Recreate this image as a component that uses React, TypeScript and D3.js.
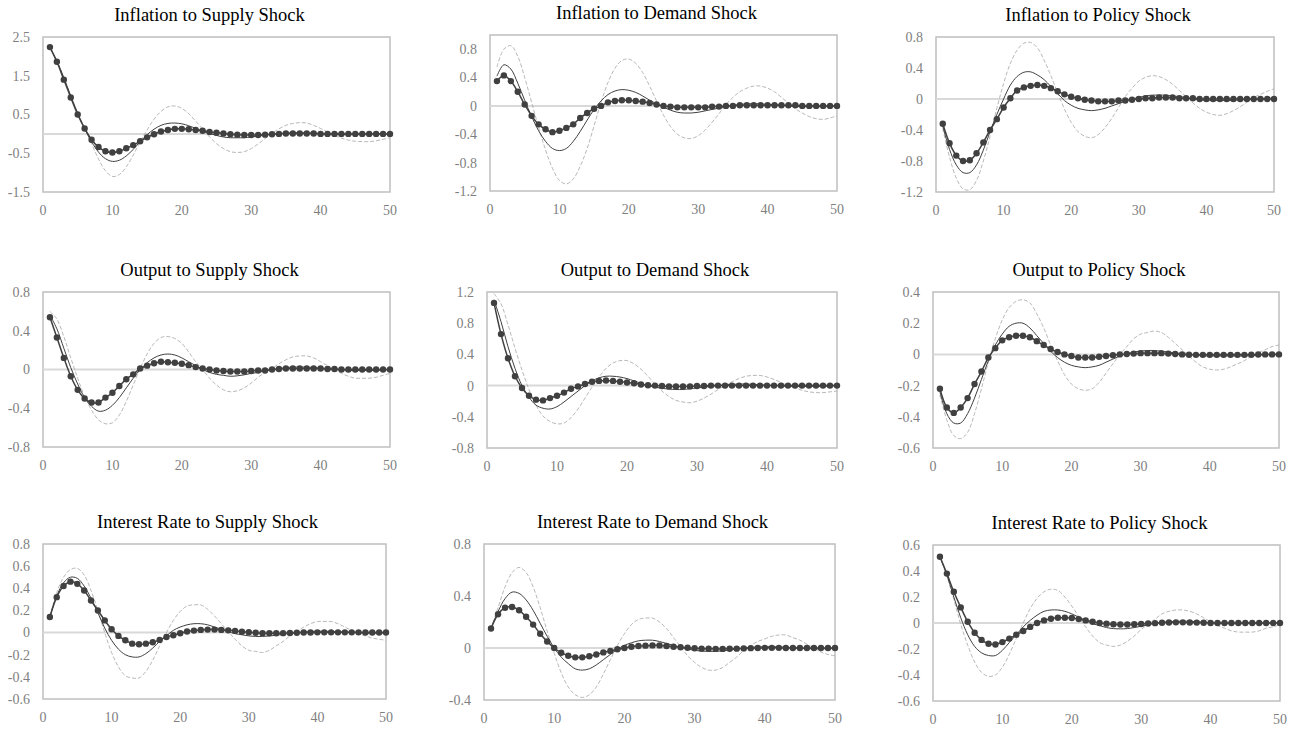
import React from 'react';
import * as d3 from 'd3';

// impulse responses, periods 1..50
const infSupDots = [2.24, 1.86, 1.40, 0.94, 0.50, 0.14, -0.15, -0.34, -0.45, -0.48,
  -0.45, -0.37, -0.29, -0.19, -0.09, -0.01, 0.06, 0.10, 0.13, 0.13,
  0.12, 0.10, 0.08, 0.05, 0.03, 0.01, -0.01, -0.02, -0.03, -0.03,
  -0.03, -0.02, -0.01, 0.00, 0.01, 0.01, 0.01, 0.01, 0.01, 0.00,
  0, 0, 0, 0, 0, 0, 0, 0, 0, 0];
const infSupLine = [2.22, 1.88, 1.45, 0.98, 0.53, 0.13, -0.20, -0.47, -0.64, -0.71,
  -0.68, -0.57, -0.40, -0.20, -0.02, 0.12, 0.22, 0.27, 0.28, 0.26,
  0.21, 0.14, 0.07, 0.01, -0.04, -0.08, -0.10, -0.10, -0.10, -0.08,
  -0.06, -0.03, -0.01, 0.01, 0.02, 0.03, 0.03, 0.03, 0.02, 0.01,
  0, 0, -0.01, -0.01, -0.01, -0.01, 0, 0, 0, 0];
const infSupDash = [2.23, 1.88, 1.45, 0.98, 0.55, 0.15, -0.25, -0.65, -0.95, -1.10,
  -1.05, -0.85, -0.55, -0.20, 0.10, 0.38, 0.58, 0.70, 0.72, 0.66,
  0.52, 0.33, 0.12, -0.08, -0.25, -0.38, -0.46, -0.48, -0.46, -0.38,
  -0.26, -0.12, 0.01, 0.13, 0.22, 0.27, 0.29, 0.28, 0.22, 0.14,
  0.05, -0.04, -0.11, -0.16, -0.19, -0.20, -0.20, -0.18, -0.14, -0.10];

const infDemDots = [0.35, 0.43, 0.35, 0.20, 0.02, -0.14, -0.26, -0.33, -0.37, -0.35,
  -0.31, -0.26, -0.17, -0.10, -0.04, 0.00, 0.05, 0.07, 0.08, 0.08,
  0.07, 0.06, 0.04, 0.02, 0.00, -0.01, -0.02, -0.02, -0.02, -0.02,
  -0.02, -0.01, -0.01, 0, 0, 0.01, 0.01, 0.01, 0.01, 0.01,
  0.01, 0.01, 0.01, 0.01, 0, 0, 0, 0, 0, 0];
const infDemLine = [0.42, 0.58, 0.52, 0.32, 0.08, -0.15, -0.35, -0.50, -0.60, -0.63,
  -0.60, -0.50, -0.36, -0.20, -0.05, 0.07, 0.16, 0.21, 0.23, 0.22,
  0.19, 0.14, 0.08, 0.03, -0.02, -0.06, -0.09, -0.10, -0.10, -0.09,
  -0.07, -0.05, -0.03, -0.01, 0.01, 0.02, 0.03, 0.03, 0.03, 0.02,
  0.02, 0.01, 0, -0.01, -0.01, -0.01, -0.01, -0.01, -0.01, 0];
const infDemDash = [0.55, 0.80, 0.85, 0.70, 0.40, 0.05, -0.30, -0.62, -0.88, -1.05,
  -1.10, -1.03, -0.85, -0.60, -0.28, 0.05, 0.33, 0.53, 0.64, 0.66,
  0.60, 0.47, 0.28, 0.07, -0.13, -0.29, -0.40, -0.45, -0.46, -0.42,
  -0.34, -0.23, -0.11, 0.02, 0.12, 0.20, 0.25, 0.28, 0.28, 0.25,
  0.20, 0.12, 0.04, -0.04, -0.10, -0.15, -0.18, -0.19, -0.17, -0.14];

const infPolDots = [-0.32, -0.57, -0.73, -0.80, -0.79, -0.70, -0.56, -0.40, -0.26, -0.11,
  0.01, 0.11, 0.15, 0.17, 0.18, 0.17, 0.14, 0.10, 0.06, 0.03,
  0.01, -0.01, -0.02, -0.03, -0.03, -0.03, -0.02, -0.02, -0.01, 0.00,
  0.01, 0.01, 0.02, 0.02, 0.02, 0.01, 0.01, 0.01, 0, 0,
  0, 0, 0, 0, 0, 0, 0, 0, 0, 0];
const infPolLine = [-0.35, -0.65, -0.85, -0.95, -0.95, -0.85, -0.66, -0.42, -0.20, 0.00,
  0.18, 0.29, 0.345, 0.35, 0.31, 0.25, 0.16, 0.07, -0.02, -0.08,
  -0.12, -0.14, -0.15, -0.14, -0.12, -0.09, -0.06, -0.03, 0.00, 0.02,
  0.04, 0.05, 0.05, 0.05, 0.04, 0.03, 0.02, 0.00, -0.01, -0.02,
  -0.02, -0.02, -0.02, -0.02, -0.01, -0.01, 0, 0, 0.01, 0.01];
const infPolDash = [-0.38, -0.75, -1.02, -1.16, -1.17, -1.05, -0.80, -0.48, -0.12, 0.20,
  0.46, 0.63, 0.72, 0.73, 0.66, 0.50, 0.30, 0.08, -0.13, -0.30,
  -0.42, -0.48, -0.50, -0.46, -0.37, -0.25, -0.11, 0.03, 0.14, 0.23,
  0.28, 0.30, 0.29, 0.25, 0.19, 0.11, 0.03, -0.05, -0.12, -0.17,
  -0.20, -0.21, -0.19, -0.15, -0.10, -0.04, 0.02, 0.06, 0.10, 0.13];

const outSupDots = [0.54, 0.33, 0.12, -0.07, -0.21, -0.30, -0.34, -0.34, -0.29, -0.24,
  -0.17, -0.10, -0.05, 0.01, 0.04, 0.065, 0.08, 0.075, 0.07, 0.06,
  0.045, 0.025, 0.01, 0.00, -0.01, -0.015, -0.02, -0.02, -0.02, -0.015,
  -0.01, -0.01, 0.00, 0.005, 0.01, 0.01, 0.01, 0.01, 0.01, 0.01,
  0.005, 0.005, 0, 0, 0, 0, 0, 0, 0, 0];
const outSupLine = [0.56, 0.42, 0.22, 0.02, -0.15, -0.29, -0.38, -0.43, -0.42, -0.37,
  -0.29, -0.19, -0.09, 0.00, 0.07, 0.12, 0.15, 0.16, 0.15, 0.12,
  0.08, 0.04, 0.00, -0.03, -0.05, -0.06, -0.07, -0.065, -0.055, -0.04,
  -0.03, -0.015, 0.00, 0.01, 0.02, 0.025, 0.025, 0.025, 0.02, 0.015,
  0.01, 0.00, -0.005, -0.01, -0.01, -0.01, -0.01, -0.01, -0.005, 0];
const outSupDash = [0.60, 0.52, 0.34, 0.12, -0.09, -0.28, -0.42, -0.52, -0.56, -0.55,
  -0.47, -0.33, -0.16, 0.01, 0.16, 0.27, 0.33, 0.34, 0.32, 0.27,
  0.18, 0.08, 0.00, -0.09, -0.16, -0.21, -0.23, -0.22, -0.19, -0.14,
  -0.08, -0.03, 0.01, 0.06, 0.10, 0.13, 0.14, 0.14, 0.12, 0.08,
  0.04, 0.00, -0.04, -0.07, -0.09, -0.09, -0.09, -0.08, -0.06, -0.04];

const outDemDots = [1.06, 0.66, 0.35, 0.12, -0.03, -0.13, -0.18, -0.19, -0.16, -0.13,
  -0.09, -0.04, -0.01, 0.02, 0.05, 0.06, 0.065, 0.06, 0.05, 0.04,
  0.03, 0.015, 0.005, 0, -0.005, -0.01, -0.01, -0.01, -0.01, -0.005,
  -0.005, 0, 0, 0, 0, 0, 0, 0, 0, 0,
  0, 0, 0, 0, 0, 0, 0, 0, 0, 0];
const outDemLine = [1.10, 0.82, 0.50, 0.22, 0.00, -0.15, -0.25, -0.29, -0.30, -0.27,
  -0.21, -0.14, -0.07, 0.00, 0.06, 0.10, 0.12, 0.12, 0.11, 0.09,
  0.06, 0.03, 0.00, -0.02, -0.035, -0.045, -0.05, -0.05, -0.04, -0.03,
  -0.02, -0.01, 0, 0.01, 0.015, 0.02, 0.02, 0.015, 0.01, 0.005,
  0, -0.005, -0.01, -0.01, -0.01, -0.01, -0.01, -0.01, -0.005, 0];
const outDemDash = [1.18, 1.05, 0.78, 0.48, 0.20, -0.05, -0.25, -0.39, -0.46, -0.49,
  -0.48, -0.41, -0.30, -0.16, -0.02, 0.11, 0.22, 0.29, 0.32, 0.32,
  0.28, 0.21, 0.12, 0.02, -0.07, -0.14, -0.19, -0.21, -0.22, -0.20,
  -0.16, -0.11, -0.05, 0.00, 0.05, 0.09, 0.12, 0.13, 0.13, 0.11,
  0.08, 0.04, 0.00, -0.03, -0.06, -0.08, -0.09, -0.09, -0.08, -0.07];

const outPolDots = [-0.22, -0.34, -0.375, -0.34, -0.28, -0.19, -0.11, -0.02, 0.04, 0.09,
  0.11, 0.12, 0.12, 0.11, 0.085, 0.06, 0.035, 0.015, 0.00, -0.01,
  -0.02, -0.02, -0.02, -0.015, -0.01, -0.005, 0, 0.003, 0.005, 0.008,
  0.008, 0.008, 0.008, 0.005, 0.003, 0, -0.002, -0.003, -0.003, -0.003,
  -0.003, -0.003, -0.003, -0.003, -0.003, -0.002, -0.001, 0, 0, 0];
const outPolLine = [-0.24, -0.38, -0.44, -0.44, -0.38, -0.28, -0.16, -0.04, 0.06, 0.13,
  0.18, 0.20, 0.20, 0.17, 0.12, 0.07, 0.02, -0.02, -0.05, -0.07,
  -0.08, -0.085, -0.08, -0.07, -0.05, -0.03, -0.01, 0.005, 0.015, 0.022,
  0.025, 0.025, 0.02, 0.015, 0.01, 0.005, 0, -0.005, -0.01, -0.01,
  -0.01, -0.01, -0.01, -0.01, -0.01, -0.008, -0.005, 0, 0, 0.005];
const outPolDash = [-0.26, -0.42, -0.52, -0.54, -0.50, -0.38, -0.22, -0.05, 0.10, 0.22,
  0.30, 0.34, 0.35, 0.33, 0.26, 0.17, 0.06, -0.04, -0.13, -0.19,
  -0.22, -0.23, -0.22, -0.18, -0.12, -0.06, 0.00, 0.05, 0.10, 0.13,
  0.14, 0.15, 0.14, 0.11, 0.07, 0.03, -0.01, -0.05, -0.08, -0.095,
  -0.10, -0.095, -0.08, -0.06, -0.04, -0.01, 0.01, 0.03, 0.05, 0.06];

const rateSupDots = [0.14, 0.32, 0.42, 0.46, 0.44, 0.38, 0.29, 0.20, 0.11, 0.03,
  -0.03, -0.07, -0.10, -0.105, -0.10, -0.087, -0.066, -0.04, -0.024, -0.006,
  0.01, 0.018, 0.024, 0.027, 0.027, 0.024, 0.02, 0.015, 0.008, 0.003,
  -0.002, -0.005, -0.006, -0.006, -0.005, -0.004, -0.002, 0, 0.001, 0.002,
  0.002, 0.002, 0.002, 0.002, 0.002, 0.002, 0.001, 0, 0, 0];
const rateSupLine = [0.14, 0.33, 0.45, 0.50, 0.49, 0.42, 0.31, 0.18, 0.04, -0.07,
  -0.15, -0.20, -0.22, -0.22, -0.19, -0.14, -0.08, -0.03, 0.02, 0.05,
  0.07, 0.08, 0.08, 0.07, 0.05, 0.03, 0.01, -0.01, -0.02, -0.03,
  -0.035, -0.035, -0.03, -0.025, -0.015, -0.005, 0, 0.005, 0.01, 0.012,
  0.012, 0.01, 0.008, 0.004, 0, -0.003, -0.005, -0.005, -0.005, -0.004];
const rateSupDash = [0.14, 0.36, 0.50, 0.57, 0.58, 0.52, 0.38, 0.20, 0.00, -0.18,
  -0.31, -0.39, -0.41, -0.41, -0.35, -0.25, -0.12, 0.00, 0.11, 0.19,
  0.24, 0.25, 0.25, 0.21, 0.15, 0.08, 0.01, -0.06, -0.12, -0.16,
  -0.17, -0.18, -0.16, -0.12, -0.08, -0.03, 0.01, 0.05, 0.08, 0.10,
  0.10, 0.10, 0.08, 0.05, 0.02, -0.01, -0.03, -0.05, -0.06, -0.07];

const rateDemDots = [0.15, 0.26, 0.31, 0.315, 0.29, 0.24, 0.18, 0.11, 0.05, 0.00,
  -0.036, -0.06, -0.072, -0.072, -0.064, -0.05, -0.034, -0.023, -0.01, 0.00,
  0.01, 0.015, 0.018, 0.02, 0.02, 0.015, 0.01, 0.006, 0.002, -0.002,
  -0.005, -0.006, -0.007, -0.007, -0.006, -0.005, -0.003, -0.001, 0, 0.001,
  0.001, 0.001, 0, 0, 0, 0, 0, 0, 0, 0];
const rateDemLine = [0.15, 0.28, 0.38, 0.43, 0.42, 0.37, 0.29, 0.19, 0.09, 0.00,
  -0.07, -0.12, -0.16, -0.17, -0.16, -0.13, -0.09, -0.05, -0.01, 0.02,
  0.04, 0.055, 0.06, 0.06, 0.05, 0.035, 0.02, 0.005, -0.008, -0.018,
  -0.024, -0.026, -0.026, -0.022, -0.016, -0.008, 0, 0.005, 0.008, 0.01,
  0.01, 0.009, 0.006, 0.002, -0.002, -0.005, -0.006, -0.006, -0.005, -0.004];
const rateDemDash = [0.15, 0.31, 0.47, 0.58, 0.62, 0.58, 0.47, 0.31, 0.13, -0.04,
  -0.19, -0.30, -0.36, -0.38, -0.36, -0.30, -0.20, -0.09, 0.02, 0.11,
  0.18, 0.22, 0.23, 0.23, 0.20, 0.15, 0.08, 0.01, -0.06, -0.11,
  -0.15, -0.17, -0.17, -0.15, -0.11, -0.07, -0.02, 0.02, 0.05, 0.07,
  0.09, 0.10, 0.10, 0.08, 0.06, 0.03, 0.00, -0.03, -0.05, -0.06];

const ratePolDots = [0.51, 0.38, 0.24, 0.12, 0.01, -0.075, -0.13, -0.16, -0.165, -0.147,
  -0.12, -0.09, -0.062, -0.03, 0.00, 0.02, 0.033, 0.04, 0.04, 0.038,
  0.03, 0.02, 0.01, 0.00, -0.005, -0.01, -0.012, -0.012, -0.01, -0.008,
  -0.004, -0.001, 0.002, 0.004, 0.005, 0.005, 0.004, 0.003, 0.002, 0,
  0, 0, 0, 0, 0, 0, 0, 0, 0, 0];
const ratePolLine = [0.51, 0.37, 0.20, 0.04, -0.09, -0.18, -0.23, -0.25, -0.25, -0.21,
  -0.15, -0.09, -0.03, 0.02, 0.06, 0.09, 0.10, 0.10, 0.09, 0.07,
  0.045, 0.02, -0.005, -0.02, -0.035, -0.043, -0.045, -0.043, -0.035, -0.025,
  -0.013, -0.003, 0.005, 0.01, 0.013, 0.014, 0.013, 0.01, 0.006, 0.002,
  -0.002, -0.004, -0.005, -0.005, -0.004, -0.003, -0.001, 0, 0.001, 0.001];
const ratePolDash = [0.51, 0.36, 0.18, -0.01, -0.17, -0.30, -0.38, -0.41, -0.40, -0.34,
  -0.24, -0.12, 0.00, 0.11, 0.19, 0.24, 0.26, 0.25, 0.20, 0.13,
  0.05, -0.03, -0.10, -0.15, -0.17, -0.18, -0.17, -0.14, -0.10, -0.05,
  -0.01, 0.03, 0.07, 0.09, 0.10, 0.10, 0.09, 0.07, 0.04, 0.01,
  -0.02, -0.04, -0.06, -0.07, -0.07, -0.07, -0.06, -0.04, -0.03, -0.01];

const titles = [
  'Inflation to Supply Shock', 'Inflation to Demand Shock', 'Inflation to Policy Shock',
  'Output to Supply Shock', 'Output to Demand Shock', 'Output to Policy Shock',
  'Interest Rate to Supply Shock', 'Interest Rate to Demand Shock', 'Interest Rate to Policy Shock',
];

const yTicks = [
  [-1.5, -0.5, 0.5, 1.5, 2.5],
  [-1.2, -0.8, -0.4, 0, 0.4, 0.8],
  [-1.2, -0.8, -0.4, 0, 0.4, 0.8],
  [-0.8, -0.4, 0, 0.4, 0.8],
  [-0.8, -0.4, 0, 0.4, 0.8, 1.2],
  [-0.6, -0.4, -0.2, 0, 0.2, 0.4],
  [-0.6, -0.4, -0.2, 0, 0.2, 0.4, 0.6, 0.8],
  [-0.4, 0, 0.4, 0.8],
  [-0.6, -0.4, -0.2, 0, 0.2, 0.4, 0.6],
];
const yDomains = [[-1.5, 2.5], [-1.2, 1.0], [-1.2, 0.8], [-0.8, 0.8], [-0.8, 1.2],
  [-0.6, 0.4], [-0.6, 0.8], [-0.4, 0.8], [-0.6, 0.6]];
const xTicks = [0, 10, 20, 30, 40, 50];

const series = [
  [infSupDots, infSupLine, infSupDash],
  [infDemDots, infDemLine, infDemDash],
  [infPolDots, infPolLine, infPolDash],
  [outSupDots, outSupLine, outSupDash],
  [outDemDots, outDemLine, outDemDash],
  [outPolDots, outPolLine, outPolDash],
  [rateSupDots, rateSupLine, rateSupDash],
  [rateDemDots, rateDemLine, rateDemDash],
  [ratePolDots, ratePolLine, ratePolDash],
];

// plot frames [left, top, right, bottom]
const frames = [
  [43, 37, 390, 192], [490, 35, 837, 191], [936, 37, 1274, 192],
  [43, 292, 390, 447], [487, 292, 837, 448], [933, 292, 1279, 448],
  [43, 544, 386, 699], [484, 544, 835, 700], [933, 545, 1280, 701],
];

const serif = '"Liberation Serif", "DejaVu Serif", serif';
const fmt = (d: number) => (d === 0 ? '0' : d.toFixed(1));

const Panel = ({ i }: { i: number }) => {
  const [l, t, r, b] = frames[i];
  const x = d3.scaleLinear().domain([0, 50]).range([l, r]);
  const y = d3.scaleLinear().domain(yDomains[i]).range([b, t]);
  const line = d3.line<number>()
    .x((d, k) => x(k + 1))
    .y(d => y(d))
    .curve(d3.curveCatmullRom.alpha(0.5));
  const [dots, solid, dash] = series[i];

  return (
    <g>
      <text x={(l + r) / 2 - 7} y={t - 16} textAnchor="middle" fontFamily={serif} fontSize={18.5} fill="#000">
        {titles[i]}
      </text>
      <rect x={l} y={t} width={r - l} height={b - t} fill="#fff" stroke="#bfbfbf" strokeWidth={1.5} />
      <line x1={l} x2={r} y1={y(0)} y2={y(0)} stroke="#d9d9d9" strokeWidth={2} />
      {yTicks[i].map(v => (
        <text key={v} x={l - 13} y={y(v)} dy="0.35em" textAnchor="end" fontFamily={serif} fontSize={14} fill="#7f7f7f">
          {fmt(v)}
        </text>
      ))}
      {xTicks.map(v => (
        <text key={v} x={x(v)} y={b + 23} textAnchor="middle" fontFamily={serif} fontSize={14} fill="#7f7f7f">
          {v}
        </text>
      ))}
      <path d={line(dash) || ''} fill="none" stroke="#a6a6a6" strokeWidth={0.8} strokeDasharray="4 2" />
      <path d={line(solid) || ''} fill="none" stroke="#404040" strokeWidth={1} />
      <path d={line(dots) || ''} fill="none" stroke="#404040" strokeWidth={1.5} />
      {dots.map((d, k) => (
        <circle key={k} cx={x(k + 1)} cy={y(d)} r={3.2} fill="#404040" />
      ))}
    </g>
  );
};

export default function App() {
  return (
    <svg width={1300} height={729} style={{ position: 'absolute', left: 0, top: 0, background: '#fff' }}>
      {titles.map((_, i) => <Panel key={i} i={i} />)}
    </svg>
  );
}
